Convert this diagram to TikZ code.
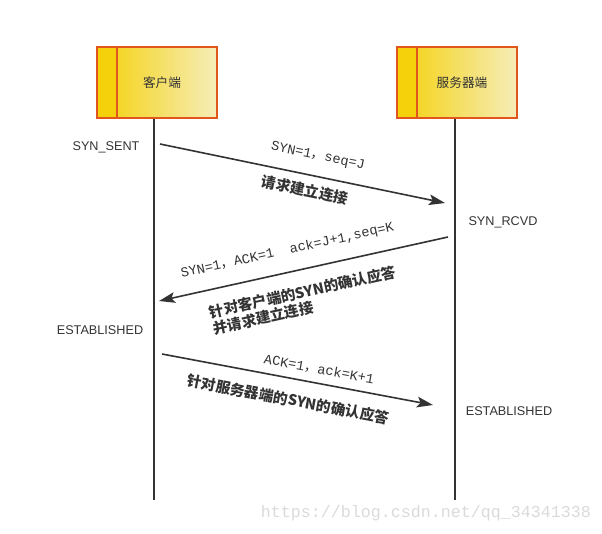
\documentclass[tikz,border=0pt]{standalone}
\usepackage{fontspec}
\setmainfont{Liberation Sans}
\setmonofont{Liberation Mono}
\newfontfamily\cjk{Noto Sans CJK SC}
\usetikzlibrary{positioning,calc,arrows.meta}

\definecolor{boxline}{HTML}{E0561C}
\definecolor{boxgold}{HTML}{F4D10A}
\definecolor{boxpale}{HTML}{F6EDB9}
\definecolor{ink}{HTML}{333333}
\definecolor{wmgray}{HTML}{DADADA}

\begin{document}
\begin{tikzpicture}[x=0.75pt, y=-0.75pt,
	role/.style={draw=boxline, line width=1.5pt, minimum width=90pt, minimum height=53pt, inner sep=0pt,
		left color=boxgold, right color=boxpale, text=ink, font=\cjk\fontsize{9.5}{10}\selectfont},
	rolebar/.style={draw=boxline, line width=1.5pt, fill=boxgold, minimum width=15pt, minimum height=53pt, inner sep=0pt},
	life/.style={ink, line width=1.5pt},
	msg/.style={ink, line width=1.2pt, -{Stealth[length=12pt, width=8pt, inset=2.5pt]}},
	param/.style={sloped, text=ink, inner sep=0pt, font=\ttfamily\fontsize{10.2}{12}\selectfont},
	note/.style={sloped, text=ink, inner sep=0pt, align=left, font=\cjk\bfseries\fontsize{11}{12.5}\selectfont},
	state/.style={text=ink, font=\fontsize{9.5}{11}\selectfont}]

	\useasboundingbox (0,0) rectangle (602,533);

	\begin{scope}
		\node[role] (client) at (157,82.5) {\hspace*{7.5pt}客户端};
		\node[rolebar, anchor=west] (clientbar) at (client.west) {};

		\node[role] (server) at (457,82.5) {\hspace*{7.5pt}服务器端};
		\node[rolebar, anchor=west] (serverbar) at (server.west) {};

		\coordinate (clientend) at (154,500);
		\coordinate (serverend) at (455,500);

		\draw [life] (clientend |- client.south) to (clientend);
		\draw [life] (serverend |- server.south) to (serverend);

		\node[state] (sent)   at (106,147) {SYN\_SENT};
		\node[state] (rcvd)   at (503,222) {SYN\_RCVD};
		\node[state] (estabc) at (100,330) {ESTABLISHED};
		\node[state] (estabs) at (509,411) {ESTABLISHED};

		\coordinate (syn1)  at (160,144);
		\coordinate (syn2)  at (445,203);
		\coordinate (ack1)  at (448,237);
		\coordinate (ack2)  at (159,301);
		\coordinate (fin1)  at (162,354);
		\coordinate (fin2)  at (433,405);

		\draw [msg] (syn1) to
			node[param, pos=0.54, yshift=15pt] (synp) {SYN=1{\cjk ，}seq=J}
			node[note, pos=0.52, yshift=-12pt] (synn) {请求建立连接} (syn2);

		\draw [msg] (ack1) to
			node[param, pos=0.54, yshift=16pt] (ackp) {SYN=1{\cjk ，}ACK=1\ \ ack=J+1,seq=K}
			node[note, pos=0.52, yshift=-23pt] (ackn) {针对客户端的SYN的确认应答\\并请求建立连接} (ack2);

		\draw [msg] (fin1) to
			node[param, pos=0.57, yshift=10.5pt] (finp) {ACK=1{\cjk ，}ack=K+1}
			node[note, pos=0.48, yshift=-16pt] (finn) {针对服务器端的SYN的确认应答} (fin2);
	\end{scope}

	\node[text=wmgray, font=\ttfamily\fontsize{12.5}{14}\selectfont] (mark) at (426,513) {https://blog.csdn.net/qq\_34341338};
\end{tikzpicture}
\end{document}
